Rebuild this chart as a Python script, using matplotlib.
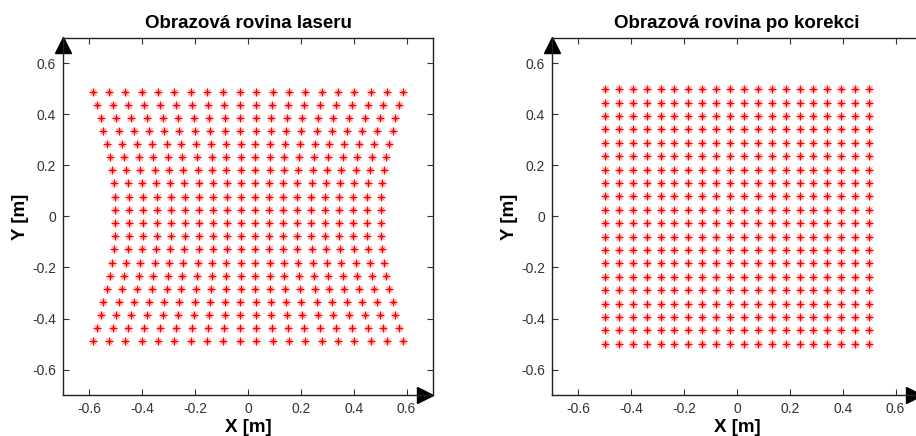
import matplotlib
matplotlib.use('Agg')
import matplotlib.pyplot as plt
from matplotlib.transforms import offset_copy
import numpy as np

plt.rcParams['font.family'] = ['Liberation Sans', 'DejaVu Sans']
plt.rcParams['axes.unicode_minus'] = False

# corrected (regular) grid positions, both axes
grid_pos = [-0.5, -0.447, -0.395, -0.342, -0.289, -0.237, -0.184, -0.132, -0.079, -0.026,
            0.026, 0.079, 0.132, 0.184, 0.237, 0.289, 0.342, 0.395, 0.447, 0.5]

# laser image plane: row y values and half width of each row
laser_row_y = [0.488, 0.436, 0.386, 0.335, 0.284, 0.233, 0.182, 0.131, 0.077, 0.026,
               -0.026, -0.076, -0.127, -0.181, -0.232, -0.283, -0.334, -0.385, -0.436, -0.488]
laser_row_halfwidth = [0.588, 0.573, 0.558, 0.547, 0.533, 0.523, 0.515, 0.508, 0.504, 0.503,
                       0.503, 0.504, 0.508, 0.515, 0.523, 0.533, 0.547, 0.558, 0.573, 0.588]

tick_vals = [-0.6, -0.4, -0.2, 0, 0.2, 0.4, 0.6]
tick_labels = ['-0.6', '-0.4', '-0.2', '0', '0.2', '0.4', '0.6']

titles = ['Obrazová rovina laseru', 'Obrazová rovina po korekci']

# build point sets
lx, ly = [], []
for yv, hw in zip(laser_row_y, laser_row_halfwidth):
    for g in grid_pos:
        lx.append(g / 0.5 * hw)
        ly.append(yv)
cx, cy = [], []
for yv in grid_pos[::-1]:
    for g in grid_pos:
        cx.append(g)
        cy.append(yv)

fig = plt.figure(figsize=(9.16, 4.36), dpi=100)
W, H = 916.0, 436.0
ax1 = fig.add_axes([63 / W, 41 / H, 370 / W, 357 / H])
ax2 = fig.add_axes([552 / W, 41 / H, 370 / W, 357 / H])

for ax, (px, py), title in zip([ax1, ax2], [(lx, ly), (cx, cy)], titles):
    ax.plot(px, py, linestyle='none', marker='+', color='red', markersize=6, markeredgewidth=1.0)
    ax.plot(px, py, linestyle='none', marker='x', color='red', markersize=4.2, markeredgewidth=0.7, alpha=0.55)
    ax.set_xlim(-0.7, 0.7)
    ax.set_ylim(-0.7, 0.7)
    ax.set_xticks(tick_vals)
    ax.set_xticklabels(tick_labels)
    ax.set_yticks(tick_vals)
    ax.set_yticklabels(tick_labels)
    ax.tick_params(direction='in', length=4, width=0.8, colors='#333333', labelsize=10,
                   top=True, right=True, pad=5)
    for s in ax.spines.values():
        s.set_color('#222222')
        s.set_linewidth(1.0)
    ax.set_title(title, fontsize=13.5, fontweight='bold', pad=7)
    ax.set_xlabel('X [m]', fontsize=13.5, fontweight='bold', labelpad=2)
    ax.set_ylabel('Y [m]', fontsize=13.5, fontweight='bold', labelpad=2)
    # axis arrows
    tr_up = offset_copy(ax.transAxes, fig=fig, x=0, y=-7, units='dots')
    ax.plot([0], [1], marker='^', color='black', markersize=11, transform=tr_up, clip_on=False)
    tr_rt = offset_copy(ax.transAxes, fig=fig, x=-8, y=0, units='dots')
    ax.plot([1], [0], marker='>', color='black', markersize=11, transform=tr_rt, clip_on=False)

fig.savefig('out.png', dpi=100)
